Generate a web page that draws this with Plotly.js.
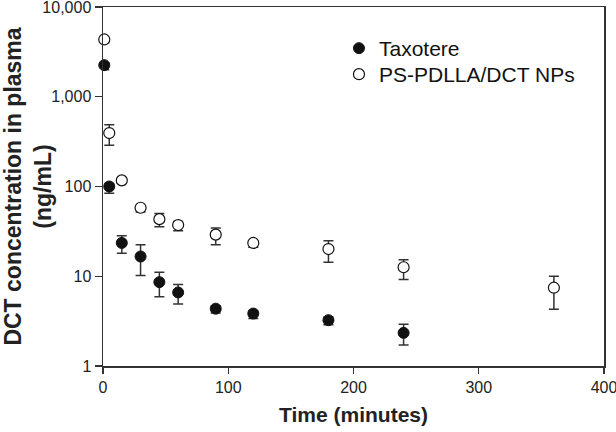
<!DOCTYPE html>
<html><head><meta charset="utf-8">
<script src="https://cdn.plot.ly/plotly-3.0.1.min.js"></script>
<style>body{margin:0;background:#fff}#c{width:616px;height:432px}</style>
</head><body><div id="c"></div>
<script>
const timeTax = [1, 5, 15, 30, 45, 60, 90, 120, 180, 240];
const concTax = [2250, 100, 23.5, 16.6, 8.6, 6.6, 4.35, 3.84, 3.24, 2.34];
const errTaxUp = [150, 8, 4.8, 5.9, 2.5, 1.5, 0.35, 0.3, 0.3, 0.58];
const errTaxDn = [250, 16, 5.5, 6.4, 2.7, 1.7, 0.45, 0.45, 0.35, 0.63];

const timeNP = [1, 5, 15, 30, 45, 60, 90, 120, 180, 240, 360];
const concNP = [4350, 394, 117, 58, 43.3, 37.2, 29.1, 23.5, 20.1, 12.6, 7.45];
const errNPUp = [200, 95, 6, 3, 6.7, 3.5, 5.3, 1.5, 4.8, 2.7, 2.55];
const errNPDn = [350, 106, 8, 6, 7.7, 5.1, 6.6, 2.5, 5.8, 3.4, 3.16];

const yTickVals = [1, 10, 100, 1000, 10000];
const yTickText = ['1', '10', '100', '1,000', '10,000'];
const xTickVals = [0, 100, 200, 300, 400];

const errStyle = {type: 'data', symmetric: false, color: '#333', thickness: 1.5, width: 5};

const traces = [
  {x: timeTax, y: concTax, name: 'Taxotere', type: 'scatter', mode: 'markers', cliponaxis: false,
   legend: 'legend',
   marker: {symbol: 'circle', size: 11, color: '#111', line: {color: '#111', width: 1}},
   error_y: Object.assign({array: errTaxUp, arrayminus: errTaxDn}, errStyle)},
  {x: timeNP, y: concNP, name: 'PS-PDLLA/DCT NPs', type: 'scatter', mode: 'markers', cliponaxis: false,
   legend: 'legend2',
   marker: {symbol: 'circle', size: 11, color: '#fff', line: {color: '#111', width: 1.2}},
   error_y: Object.assign({array: errNPUp, arrayminus: errNPDn}, errStyle)}
];

const legendBase = {x: 0.471, xanchor: 'left', yanchor: 'top', bgcolor: 'rgba(0,0,0,0)',
  font: {size: 21, color: '#111'}};

const layout = {
  width: 616, height: 432,
  margin: {l: 103, r: 12, t: 7, b: 66},
  paper_bgcolor: '#fff', plot_bgcolor: '#fff',
  font: {family: 'Liberation Sans, Arial, sans-serif', color: '#222', size: 16},
  showlegend: true,
  legend: Object.assign({y: 0.9415}, legendBase),
  legend2: Object.assign({y: 0.869}, legendBase),
  xaxis: {range: [0, 400], tickvals: xTickVals, ticks: 'outside', ticklen: 6, tickwidth: 1.2, tickcolor: '#333',
    showline: true, linecolor: '#333', linewidth: 1.5, mirror: true, showgrid: false, zeroline: false,
    ticklabeloverflow: 'allow', tickfont: {size: 16, color: '#222'},
    title: {text: '<b>Time (minutes)</b>', font: {size: 21, color: '#222'}, standoff: 12}},
  yaxis: {type: 'log', range: [0, 4], tickvals: yTickVals, ticktext: yTickText, ticks: 'outside', ticklen: 7,
    tickwidth: 1.2, tickcolor: '#333', showline: true, linecolor: '#333', linewidth: 1.5, mirror: true,
    showgrid: false, zeroline: false, ticklabeloverflow: 'allow', tickfont: {size: 16, color: '#222'},
    title: {text: '<b>DCT concentration in plasma<br>(ng/mL)</b>', font: {size: 23, color: '#222'}, standoff: 8}}
};

Plotly.newPlot('c', traces, layout, {displayModeBar: false, staticPlot: true});
</script></body></html>
